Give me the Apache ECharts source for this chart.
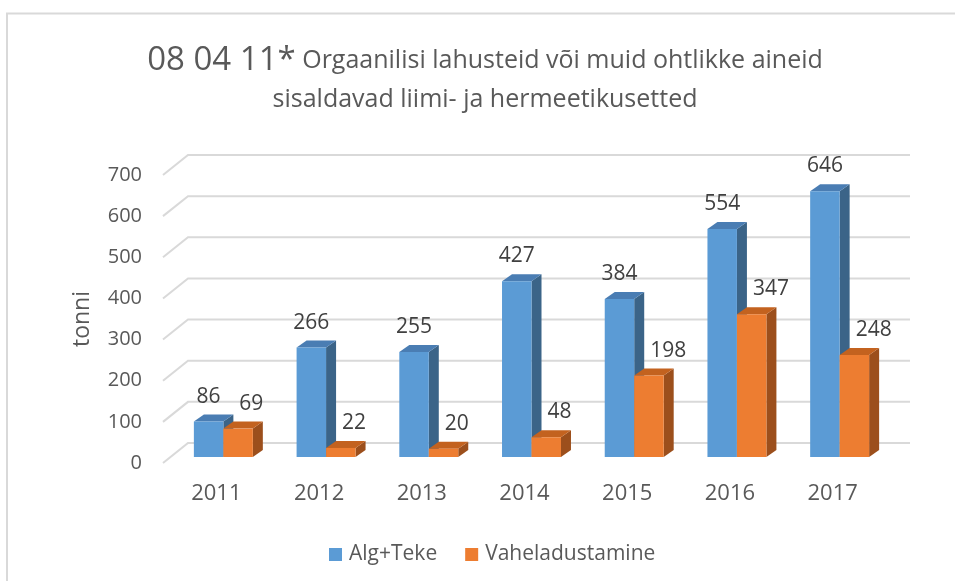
<!DOCTYPE html>
<html>
<head>
<meta charset="utf-8">
<script src="https://cdn.jsdelivr.net/npm/echarts@6/dist/echarts.min.js"></script>
<style>
  html, body { margin: 0; padding: 0; background: #fff; }
  #chart { width: 955px; height: 581px; }
</style>
</head>
<body>
<div id="chart"></div>
<script>
const years = ['2011', '2012', '2013', '2014', '2015', '2016', '2017']
const algTeke = [86, 266, 255, 427, 384, 554, 646]
const vaheladustamine = [69, 22, 20, 48, 198, 347, 248]
const yTicks = [0, 100, 200, 300, 400, 500, 600, 700]

const FONT = '"Open Sans", sans-serif'
const TEXT = '#595959'
const DX = 10, DY = 7 // bar depth
const LIFT = 6 // bars stand a bit behind the front edge of the floor
const colors = [
  { front: '#5B9BD5', top: '#4A7DB3', side: '#3B6488' },
  { front: '#ED7D31', top: '#C3621F', side: '#9C4F1C' },
]

const chart = echarts.init(document.getElementById('chart'))

function barRender(idx) {
  return function (params, api) {
    const i = api.value(0)
    const v = api.value(1)
    const base = api.coord([i, 0])
    const top = api.coord([i, v])
    const bw = api.size([1, 0])[0] * 0.287
    const x = idx === 0 ? base[0] - bw : base[0]
    const y0 = base[1] - LIFT, y1 = top[1] - LIFT
    const c = colors[idx]
    return {
      type: 'group',
      children: [
        { type: 'polygon', shape: { points: [[x + bw, y0], [x + bw + DX, y0 - DY], [x + bw + DX, y1 - DY], [x + bw, y1]] }, style: { fill: c.side } },
        { type: 'polygon', shape: { points: [[x, y1], [x + DX, y1 - DY], [x + bw + DX, y1 - DY], [x + bw, y1]] }, style: { fill: c.top } },
        { type: 'rect', shape: { x: x, y: y1, width: bw, height: y0 - y1 }, style: { fill: c.front } },
        {
          type: 'text',
          style: {
            text: String(v),
            x: idx === 0 ? x + bw / 2 : x + 16,
            y: y1 - 25,
            align: idx === 0 ? 'center' : 'left',
            verticalAlign: 'middle',
            fill: '#404040',
            fontSize: 21,
            fontFamily: FONT,
          },
        },
      ],
    }
  }
}

function gridRender(params, api) {
  const cs = params.coordSys
  const y = api.coord([0, api.value(1)])[1]
  return {
    type: 'polyline',
    shape: { points: [[cs.x - 9, y], [cs.x + 16, y - 20], [cs.x + cs.width + 19, y - 20]] },
    style: { stroke: '#D9D9D9', lineWidth: 2, fill: null },
  }
}

chart.setOption({
  backgroundColor: '#fff',
  animation: false,
  graphic: [
    { type: 'rect', shape: { x: 7, y: 13.5, width: 1000, height: 700 }, style: { fill: null, stroke: '#D9D9D9', lineWidth: 2 } },
    {
      type: 'text',
      x: 485,
      y: 61,
      style: {
        text: '{a|08 04 11*}{b| Orgaanilisi lahusteid või muid ohtlikke aineid}',
        align: 'center',
        verticalAlign: 'middle',
        rich: {
          a: { fontSize: 33, fontFamily: FONT, fill: TEXT },
          b: { fontSize: 25, fontFamily: FONT, fill: TEXT },
        },
      },
    },
    {
      type: 'text',
      x: 485,
      y: 100,
      style: {
        text: 'sisaldavad liimi- ja hermeetikusetted',
        align: 'center',
        verticalAlign: 'middle',
        fontSize: 25,
        fontFamily: FONT,
        fill: TEXT,
      },
    },
  ],
  legend: {
    bottom: 11,
    left: 324,
    padding: 5,
    icon: 'rect',
    itemWidth: 13,
    itemHeight: 13,
    itemGap: 28,
    textStyle: { fontSize: 21, fontFamily: FONT, color: TEXT, padding: [0, 0, 0, 2] },
    data: [
      { name: 'Alg+Teke', itemStyle: { color: colors[0].front } },
      { name: 'Vaheladustamine', itemStyle: { color: colors[1].front } },
    ],
  },
  grid: { left: 172, right: 64, top: 175, bottom: 118 },
  xAxis: {
    type: 'category',
    data: years,
    axisLine: { show: false },
    axisTick: { show: false },
    axisLabel: { margin: 20, fontSize: 22, fontFamily: FONT, color: TEXT, padding: [0, 14, 0, 0] },
  },
  yAxis: {
    type: 'value',
    min: 0,
    max: 700,
    interval: 100,
    name: 'tonni',
    nameLocation: 'middle',
    nameGap: 78,
    nameTextStyle: { fontSize: 23, fontFamily: FONT, color: TEXT },
    axisLine: { show: false },
    axisTick: { show: false },
    splitLine: { show: false },
    axisLabel: { margin: 30, fontSize: 20, fontFamily: FONT, color: TEXT },
  },
  series: [
    {
      type: 'custom',
      name: 'grid',
      z: 1,
      silent: true,
      renderItem: gridRender,
      encode: { x: 0, y: 1 },
      data: yTicks.map(v => [0, v]),
    },
    {
      type: 'custom',
      name: 'Alg+Teke',
      z: 2,
      renderItem: barRender(0),
      encode: { x: 0, y: 1 },
      itemStyle: { color: colors[0].front },
      data: algTeke.map((v, i) => [i, v]),
    },
    {
      type: 'custom',
      name: 'Vaheladustamine',
      z: 3,
      renderItem: barRender(1),
      encode: { x: 0, y: 1 },
      itemStyle: { color: colors[1].front },
      data: vaheladustamine.map((v, i) => [i, v]),
    },
  ],
})
</script>
</body>
</html>
